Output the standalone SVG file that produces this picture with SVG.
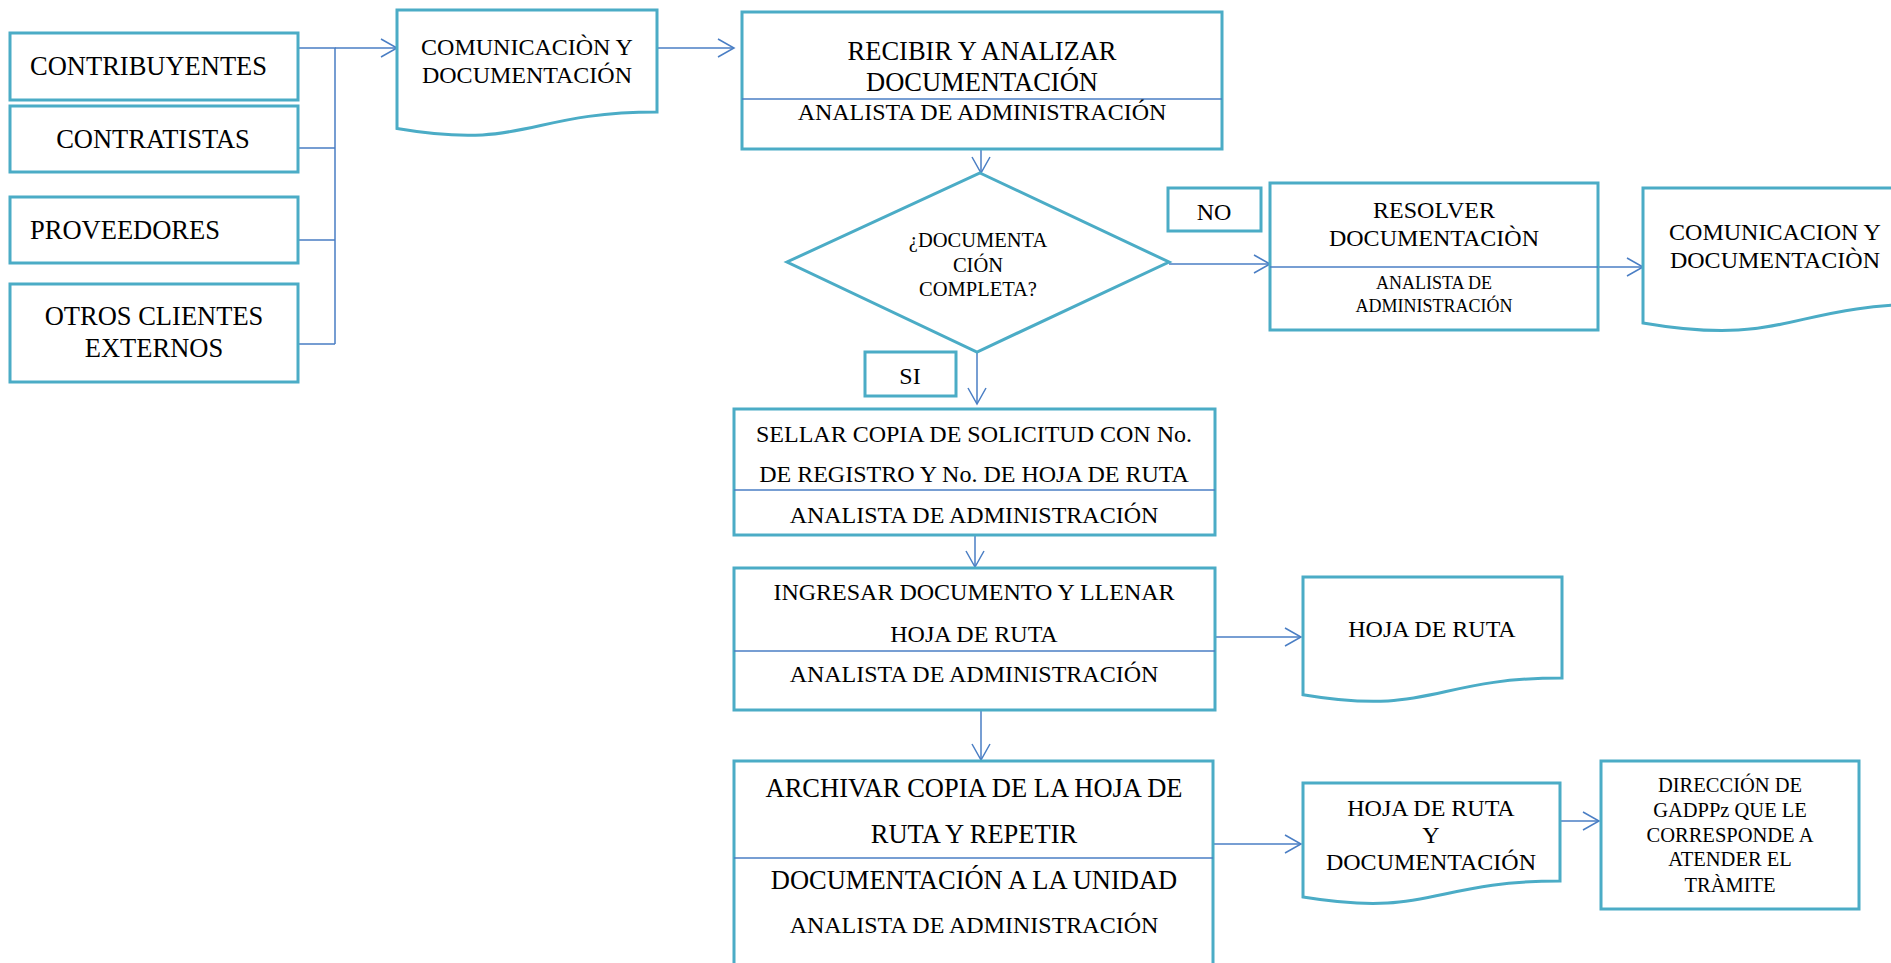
<svg xmlns="http://www.w3.org/2000/svg" width="1891" height="963" viewBox="0 0 1891 963">
  <style>
    .box { fill: #ffffff; stroke: #4BACC6; stroke-width: 3; }
    .div { stroke: #4A7EC4; stroke-width: 1.4; fill: none; }
    .con { stroke: #4A7EC4; stroke-width: 1.5; fill: none; }
    .arr { marker-end: url(#open); }
    text { font-family: "Liberation Serif", "Times New Roman", serif; fill: #000000; text-anchor: middle; }
    .t26 { font-size: 26.5px; }
    .t24 { font-size: 24px; }
    .t20 { font-size: 20.5px; }
    .t18 { font-size: 18px; }
    .l { text-anchor: start; }
  </style>
  <defs>
    <marker id="open" markerUnits="userSpaceOnUse" viewBox="-18 -11 20 22" markerWidth="20" markerHeight="22" refX="0" refY="0" orient="auto">
      <path d="M-16,-9 L0,0 L-16,9" fill="none" stroke="#4A7EC4" stroke-width="1.5"/>
    </marker>
  </defs>
  <rect width="1891" height="963" fill="#ffffff"/>

  <!-- connectors -->
  <g id="connectors">
    <path class="con" d="M298,48 H335 V344 M298,148 H335 M298,240 H335 M298,344 H335"/>
    <path class="con arr" d="M335,48 H397"/>
    <path class="con arr" d="M657,48 H734"/>
    <path class="con arr" d="M981,135 V173"/>
    <path class="con arr" d="M1169,264 H1270"/>
    <path class="con arr" d="M1598,267 H1643"/>
    <path class="con arr" d="M977,352 V404"/>
    <path class="con arr" d="M975,535 V567"/>
    <path class="con arr" d="M1215,637 H1301"/>
    <path class="con arr" d="M981,710 V760"/>
    <path class="con arr" d="M1213,844 H1301"/>
    <path class="con arr" d="M1560,821 H1599"/>
  </g>

  <!-- external sources -->
  <g id="contribuyentes">
    <rect class="box" x="10" y="33" width="288" height="67"/>
    <text class="t26 l" x="30" y="75">CONTRIBUYENTES</text>
  </g>
  <g id="contratistas">
    <rect class="box" x="10" y="106" width="288" height="66"/>
    <text class="t26" x="153" y="148">CONTRATISTAS</text>
  </g>
  <g id="proveedores">
    <rect class="box" x="10" y="197" width="288" height="66"/>
    <text class="t26 l" x="30" y="239">PROVEEDORES</text>
  </g>
  <g id="otros-clientes">
    <rect class="box" x="10" y="284" width="288" height="98"/>
    <text class="t26" x="154" y="325">OTROS CLIENTES</text>
    <text class="t26" x="154" y="357">EXTERNOS</text>
  </g>

  <!-- document: comunicación y documentación -->
  <g id="doc-comunicacion">
    <path class="box" d="M397,10 H657 V112 C527,112 527,150.6 397,128.6 Z"/>
    <text class="t24" x="527" y="55">COMUNICACIÒN Y</text>
    <text class="t24" x="527" y="83">DOCUMENTACIÓN</text>
  </g>

  <!-- process: recibir y analizar -->
  <g id="recibir">
    <rect class="box" x="742" y="12" width="480" height="137"/>
    <line class="div" x1="742" y1="99" x2="1222" y2="99"/>
    <text class="t26" x="982" y="60">RECIBIR Y ANALIZAR</text>
    <text class="t26" x="982" y="91">DOCUMENTACIÓN</text>
    <text class="t24" x="982" y="120">ANALISTA DE ADMINISTRACIÓN</text>
  </g>

  <!-- decision -->
  <g id="decision">
    <polygon class="box" points="980,173 1169,262 977,352 787,262"/>
    <text class="t20" x="978" y="247">¿DOCUMENTA</text>
    <text class="t20" x="978" y="272">CIÓN</text>
    <text class="t20" x="978" y="296">COMPLETA?</text>
  </g>
  <g id="label-no">
    <rect class="box" x="1168" y="188" width="93" height="43"/>
    <text class="t24" x="1214" y="220">NO</text>
  </g>
  <g id="label-si">
    <rect class="box" x="865" y="352" width="91" height="44"/>
    <text class="t24" x="910" y="384">SI</text>
  </g>

  <!-- process: resolver documentación -->
  <g id="resolver">
    <rect class="box" x="1270" y="183" width="328" height="147"/>
    <line class="div" x1="1270" y1="267" x2="1598" y2="267"/>
    <text class="t24" x="1434" y="218">RESOLVER</text>
    <text class="t24" x="1434" y="246">DOCUMENTACIÒN</text>
    <text class="t18" x="1434" y="289">ANALISTA DE</text>
    <text class="t18" x="1434" y="312">ADMINISTRACIÓN</text>
  </g>

  <!-- document: comunicacion y documentaciòn -->
  <g id="doc-comunicacion-2">
    <path class="box" d="M1643,188 H1933 V303.9 C1788,303.9 1788,347.9 1643,323 Z"/>
    <text class="t24" x="1775" y="240">COMUNICACION Y</text>
    <text class="t24" x="1775" y="268">DOCUMENTACIÒN</text>
  </g>

  <!-- process: sellar copia -->
  <g id="sellar">
    <rect class="box" x="734" y="409" width="481" height="126"/>
    <line class="div" x1="734" y1="490" x2="1215" y2="490"/>
    <text class="t24" x="974" y="442">SELLAR COPIA DE SOLICITUD CON No.</text>
    <text class="t24" x="974" y="482">DE REGISTRO Y No. DE HOJA DE RUTA</text>
    <text class="t24" x="974" y="523">ANALISTA DE ADMINISTRACIÓN</text>
  </g>

  <!-- process: ingresar documento -->
  <g id="ingresar">
    <rect class="box" x="734" y="568" width="481" height="142"/>
    <line class="div" x1="734" y1="651" x2="1215" y2="651"/>
    <text class="t24" x="974" y="600">INGRESAR DOCUMENTO Y LLENAR</text>
    <text class="t24" x="974" y="642">HOJA DE RUTA</text>
    <text class="t24" x="974" y="682">ANALISTA DE ADMINISTRACIÓN</text>
  </g>

  <!-- document: hoja de ruta -->
  <g id="doc-hoja-ruta">
    <path class="box" d="M1303,577 H1562 V678 C1432.5,678 1432.5,716.5 1303,694.7 Z"/>
    <text class="t24" x="1432" y="637">HOJA DE RUTA</text>
  </g>

  <!-- process: archivar copia -->
  <g id="archivar">
    <rect class="box" x="734" y="761" width="479" height="215"/>
    <line class="div" x1="734" y1="858" x2="1213" y2="858"/>
    <text class="t26" x="974" y="797">ARCHIVAR COPIA DE LA HOJA DE</text>
    <text class="t26" x="974" y="843">RUTA Y REPETIR</text>
    <text class="t26" x="974" y="889">DOCUMENTACIÓN A LA UNIDAD</text>
    <text class="t24" x="974" y="933">ANALISTA DE ADMINISTRACIÓN</text>
  </g>

  <!-- document: hoja de ruta y documentación -->
  <g id="doc-hoja-ruta-doc">
    <path class="box" d="M1303,783 H1560 V881 C1431.5,881 1431.5,918 1303,897 Z"/>
    <text class="t24" x="1431" y="816">HOJA DE RUTA</text>
    <text class="t24" x="1431" y="843">Y</text>
    <text class="t24" x="1431" y="870">DOCUMENTACIÓN</text>
  </g>

  <!-- destination -->
  <g id="direccion">
    <rect class="box" x="1601" y="761" width="258" height="148"/>
    <text class="t20" x="1730" y="792">DIRECCIÓN DE</text>
    <text class="t20" x="1730" y="817">GADPPz QUE LE</text>
    <text class="t20" x="1730" y="842">CORRESPONDE A</text>
    <text class="t20" x="1730" y="866">ATENDER EL</text>
    <text class="t20" x="1730" y="892">TRÀMITE</text>
  </g>
</svg>
